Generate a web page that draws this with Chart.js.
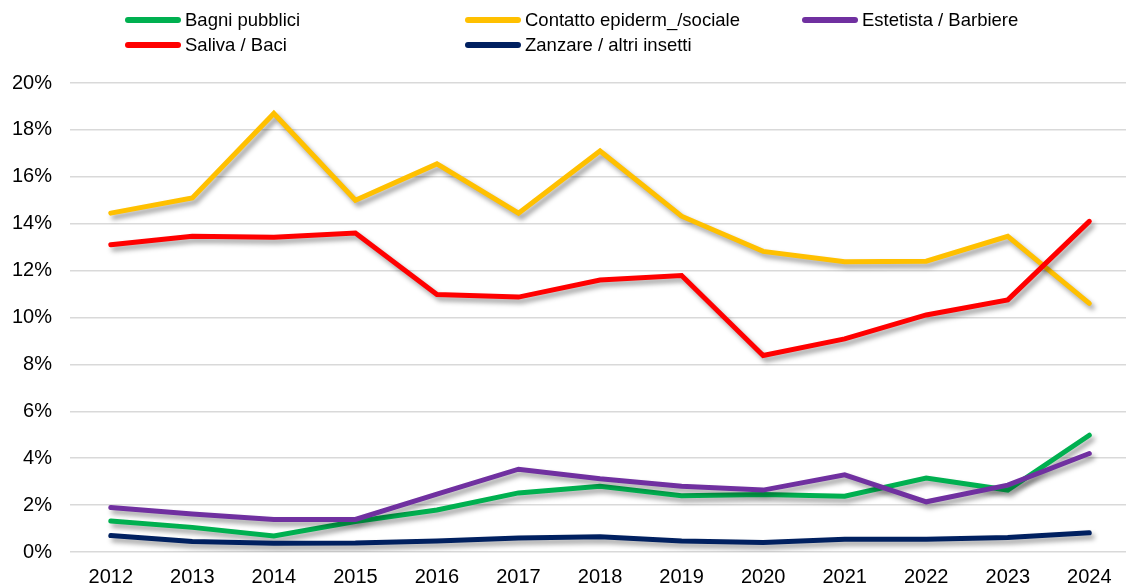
<!DOCTYPE html>
<html>
<head>
<meta charset="utf-8">
<script src="https://cdn.jsdelivr.net/npm/chart.js@4"></script>
<style>
html,body{margin:0;padding:0;background:#fff;}
#wrap{position:relative;width:1126px;height:586px;}
canvas{position:absolute;left:0;top:0;}
.lg{position:absolute;font-family:"Liberation Sans",Arial,sans-serif;font-size:18.5px;color:#000;white-space:nowrap;line-height:20px;}
.lg span.ln{position:absolute;left:0;top:7px;width:56px;height:6px;border-radius:3px;}
.lg span.tx{position:absolute;left:60px;top:0;}
</style>
</head>
<body>
<div id="wrap">
<canvas id="c" width="1126" height="586"></canvas>
</div>
<script>
const years = [2012,2013,2014,2015,2016,2017,2018,2019,2020,2021,2022,2023,2024];
const seriesNames = ["Bagni pubblici","Contatto epiderm_/sociale","Estetista / Barbiere","Saliva / Baci","Zanzare / altri insetti"];
const seriesColors = ["#00b050","#ffc000","#7030a0","#ff0000","#002060"];
const bagni    = [1.32,1.05,0.68,1.30,1.79,2.52,2.80,2.40,2.45,2.38,3.15,2.64,4.98];
const contatto = [14.45,15.10,18.70,15.00,16.55,14.45,17.10,14.32,12.82,12.38,12.40,13.46,10.60];
const estetista= [1.90,1.62,1.39,1.39,2.47,3.53,3.12,2.80,2.64,3.29,2.14,2.85,4.20];
const saliva   = [13.10,13.46,13.42,13.60,10.98,10.87,11.60,11.79,8.38,9.09,10.11,10.75,14.10];
const zanzare  = [0.70,0.45,0.37,0.38,0.47,0.60,0.65,0.47,0.40,0.54,0.54,0.62,0.82];
const yTicks = [0,2,4,6,8,10,12,14,16,18,20];

const allSeries = [bagni, contatto, estetista, saliva, zanzare];
const legendPos = [[125,10],[465,10],[802,10],[125,35],[465,35]];

const wrap = document.getElementById('wrap');
seriesNames.forEach((n,i)=>{
  const d = document.createElement('div');
  d.className='lg';
  d.style.left = legendPos[i][0]+'px';
  d.style.top = legendPos[i][1]+'px';
  d.innerHTML = '<span class="ln" style="background:'+seriesColors[i]+'"></span><span class="tx"></span>';
  d.querySelector('.tx').textContent = n;
  wrap.appendChild(d);
});

const shadowPlugin = {
  id:'shadow',
  beforeDatasetDraw(chart){
    const ctx = chart.ctx;
    ctx.save();
    ctx.shadowColor='rgba(0,0,0,0.38)';
    ctx.shadowBlur=5;
    ctx.shadowOffsetX=3;
    ctx.shadowOffsetY=4;
  },
  afterDatasetDraw(chart){
    chart.ctx.restore();
  }
};

new Chart(document.getElementById('c'), {
  type:'line',
  data:{
    datasets: allSeries.map((s,i)=>({
      label: seriesNames[i],
      data: s.map((v,j)=>({x:years[j], y:v})),
      borderColor: seriesColors[i],
      backgroundColor: seriesColors[i],
      borderWidth:5,
      pointRadius:0,
      tension:0,
      borderCapStyle:'round',
      borderJoinStyle:'miter',
      order: allSeries.length - i
    }))
  },
  options:{
    responsive:false,
    animation:false,
    layout:{padding:{top:83,right:0,left:0,bottom:0}},
    plugins:{legend:{display:false},tooltip:{enabled:false}},
    scales:{
      x:{
        type:'linear',
        min:2011.5,
        max:2024.45,
        afterBuildTicks(axis){ axis.ticks = years.map(v=>({value:v})); },
        afterFit(axis){ axis.height = 34; },
        grid:{display:false},
        border:{display:false},
        ticks:{
          font:{family:'"Liberation Sans", Arial, sans-serif', size:20},
          color:'#000',
          padding:5,
          autoSkip:false,
          maxRotation:0,
          callback:(v)=>String(v)
        }
      },
      y:{
        min:0,max:20,
        afterBuildTicks(axis){ axis.ticks = yTicks.map(v=>({value:v})); },
        afterFit(axis){ axis.width = 70; },
        grid:{color:'#d9d9d9',lineWidth:1.5,drawTicks:false},
        border:{display:false},
        ticks:{
          font:{family:'"Liberation Sans", Arial, sans-serif', size:20},
          color:'#000',
          padding:18,
          callback:(v)=>v+'%'
        }
      }
    }
  },
  plugins:[shadowPlugin]
});
</script>
</body>
</html>
